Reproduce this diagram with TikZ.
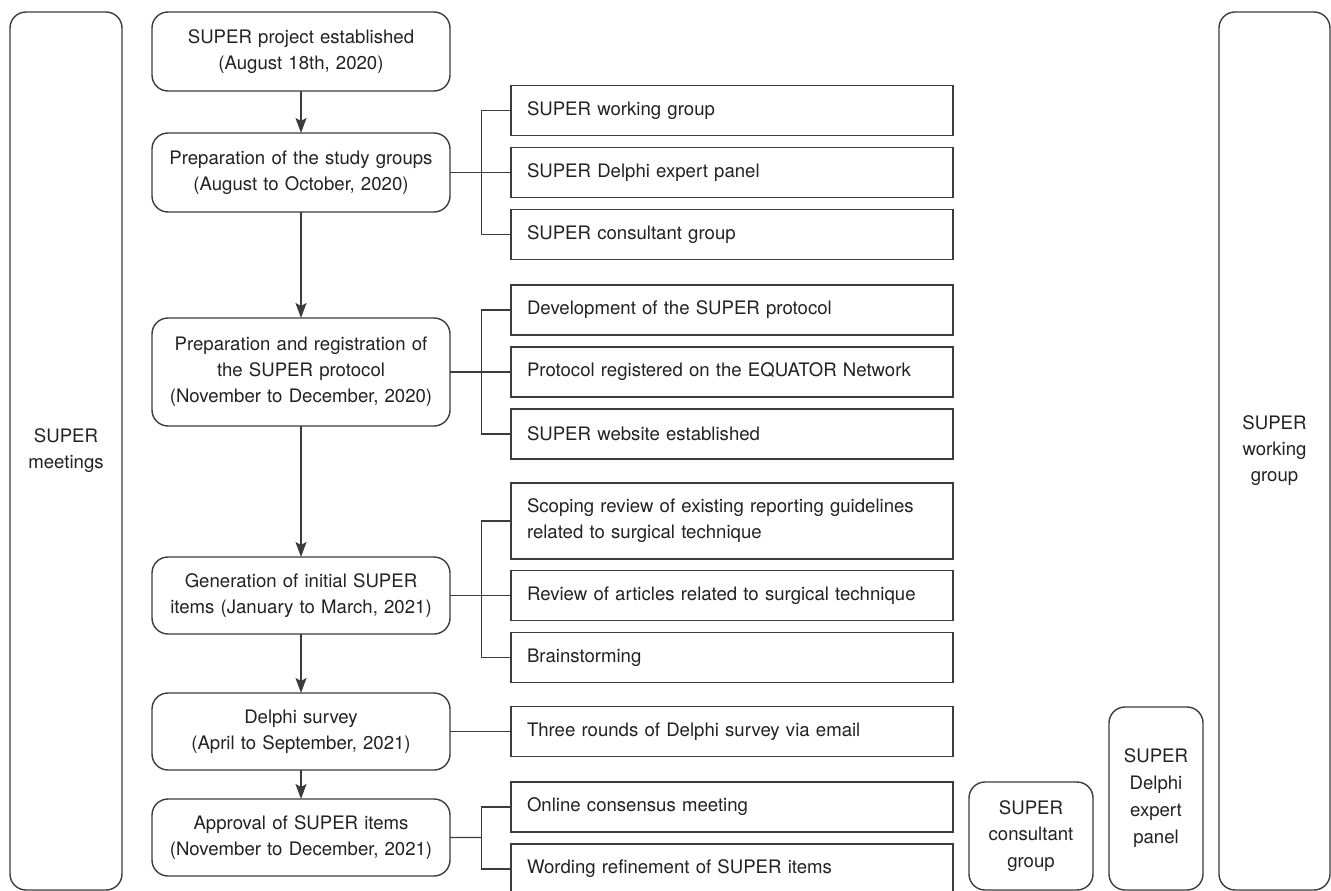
\documentclass[tikz,border=0pt]{standalone}
\usepackage{fontspec}
\setmainfont{TeX Gyre Heros}
\usetikzlibrary{positioning, calc, arrows.meta}

\definecolor{linegray}{HTML}{3C3C3C}
\definecolor{txtgray}{HTML}{222222}

\begin{document}
\begin{tikzpicture}[
    x=1pt, y=-1pt,
    font=\fontsize{18.6}{26}\selectfont,
    node distance=12pt]

  \tikzset{box/.style={draw=linegray, line width=1.4pt, text=txtgray, inner sep=0pt, outer sep=0pt}}
  \tikzset{stage/.style={box, rounded corners=16pt, minimum width=298pt, text width=280pt, align=center}}
  \tikzset{task/.style={box, minimum width=442pt, minimum height=50pt, text width=410pt, align=left, inner xsep=16pt}}
  \tikzset{team/.style={box, rounded corners=16pt, align=center}}
  \tikzset{link/.style={draw=linegray, line width=1.4pt}}
  \tikzset{arr/.style={link, -{Stealth[length=15pt, width=11pt, inset=3pt]}}}

  \clip (0, 0) rectangle (1331, 891);

  % side groups
  \node[team, minimum width=112pt, minimum height=878pt] at (66, 451) (meet) {SUPER\\meetings};
  \node[team, minimum width=111pt, minimum height=878pt] at (1274.5, 451) (wgrp) {SUPER\\working\\group};
  \node[team, minimum width=124pt, minimum height=108pt, font=\fontsize{18.6}{26.5}\selectfont] at (1031, 836) (cons) {SUPER\\consultant\\group};
  \node[team, minimum width=94pt, minimum height=183pt, font=\fontsize{18.6}{27}\selectfont] at (1156, 798.5) (panel) {SUPER\\Delphi\\expert\\panel};

  % stages
  \node[stage, minimum height=79pt] at (301, 51.5) (b1) {SUPER project established\\(August 18th, 2020)};
  \node[stage, minimum height=79pt] at (301, 172.5) (b2) {Preparation of the study groups\\(August to October, 2020)};
  \node[stage, minimum height=108pt] at (301, 372) (b3) {Preparation and registration of\\the SUPER protocol\\(November to December, 2020)};
  \node[stage, minimum height=77pt] at (301, 595.5) (b4) {Generation of initial SUPER\\items (January to March, 2021)};
  \node[stage, minimum height=77pt] at (301, 731.5) (b5) {Delphi survey\\(April to September, 2021)};
  \node[stage, minimum height=77pt] at (301, 837.5) (b6) {Approval of SUPER items\\(November to December, 2021)};

  % tasks
  \node[task] at (732, 110.5) (wg) {SUPER working group};
  \node[task, below=of wg] (dep) {SUPER Delphi expert panel};
  \node[task, below=of dep] (cg) {SUPER consultant group};

  \node[task] at (732, 310) (dev) {Development of the SUPER protocol};
  \node[task, below=of dev] (reg) {Protocol registered on the EQUATOR Network};
  \node[task, below=of reg] (web) {SUPER website established};

  \node[task, minimum height=76pt] at (732, 521) (scop) {Scoping review of existing reporting guidelines related to surgical technique};
  \node[task] at (732, 595.5) (rev) {Review of articles related to surgical technique};
  \node[task, below=of rev] (brain) {Brainstorming};

  \node[task] at (732, 731.5) (rounds) {Three rounds of Delphi survey via email};

  \node[task] at (732, 807) (online) {Online consensus meeting};
  \node[task, below=of online] (word) {Wording refinement of SUPER items};

  % flow
  \draw[arr] (b1) -- (b2);
  \draw[arr] (b2) -- (b3);
  \draw[arr] (b3) -- (b4);
  \draw[arr] (b4) -- (b5);
  \draw[arr] (b5) -- (b6);

  % branches
  \coordinate (j2) at ($(b2.east)!0.52!(dep.west)$);
  \coordinate (j3) at ($(b3.east)!0.52!(reg.west)$);
  \coordinate (j4) at ($(b4.east)!0.52!(rev.west)$);
  \coordinate (j6) at ($(b6.east)!0.52!(online.west |- b6.east)$);

  \draw[link] (b2.east) -- (dep.west);
  \draw[link] (wg.west) -| (j2) |- (cg.west);
  \draw[link] (b3.east) -- (reg.west);
  \draw[link] (dev.west) -| (j3) |- (web.west);
  \draw[link] (b4.east) -- (rev.west);
  \draw[link] (scop.west) -| (j4) |- (brain.west);
  \draw[link] (b5.east) -- (rounds.west);
  \draw[link] (b6.east) -- (j6);
  \draw[link] (online.west) -| (j6) |- (word.west);
\end{tikzpicture}
\end{document}
